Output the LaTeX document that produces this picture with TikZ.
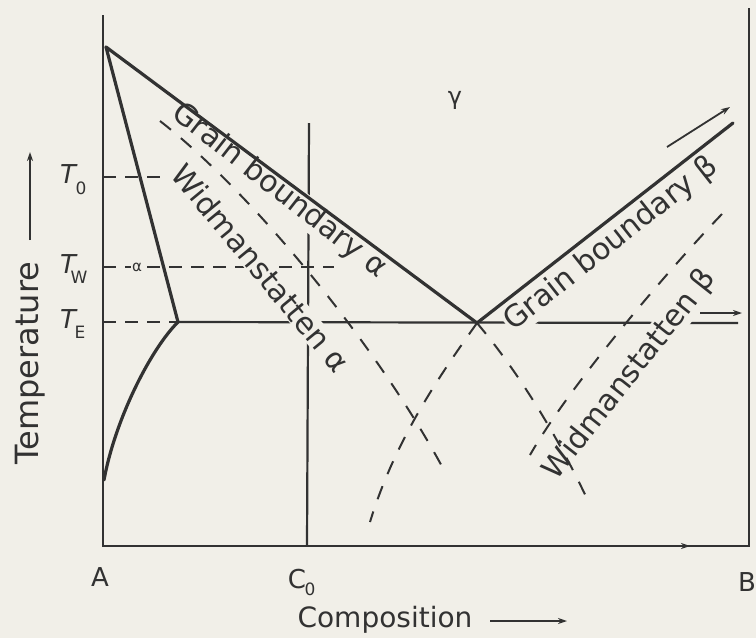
\documentclass[tikz,border=0pt]{standalone}
\usepackage{fontspec}
\setmainfont{DejaVu Sans}
\usetikzlibrary{arrows.meta}
\definecolor{paper}{RGB}{241,239,232}
\definecolor{ink}{RGB}{50,50,50}
\tikzset{
 thickline/.style={ink, line width=3.2pt, line join=round, line cap=round},
 thinline/.style={ink, line width=2.2pt},
 dashline/.style={ink, line width=2pt, dash pattern=on 14pt off 13pt},
 arr/.style={ink, line width=1.8pt, -{Stealth[length=9pt,width=6pt]}},
 lab/.style={text=ink, font=\fontsize{30}{36}\selectfont, inner sep=1pt, fill=paper},
 tlab/.style={text=ink, font=\fontsize{26}{30}\selectfont, inner sep=0pt},
 sublab/.style={text=ink, font=\fontsize{17}{20}\selectfont, inner sep=0pt},
}
\begin{document}
\begin{tikzpicture}[x=1pt,y=-1pt]
\fill[paper] (0,0) rectangle (756,638);
\useasboundingbox (0,0) rectangle (756,638);
% key points
\coordinate (axTop) at (103,15);
\coordinate (O) at (103,546);
\coordinate (Bx) at (749,546);
\coordinate (Rtop) at (749,8);
\coordinate (arrB) at (690,546);
\coordinate (P) at (106,47);
\coordinate (E) at (477,323);
\coordinate (Sol) at (178,322);
\coordinate (Ab) at (104,480);
\coordinate (Lb) at (733,123);
\coordinate (TEr) at (738,323);
\coordinate (Ctop) at (309,123);
\coordinate (Cbot) at (307,546);
\coordinate (T0a) at (103,177);
\coordinate (T0b) at (168,177);
\coordinate (TWa) at (103,267);
\coordinate (TWb) at (334,267);
\coordinate (TEa) at (103,322);
% axes and frame
\draw[thinline] (axTop) -- (O) -- (Bx) -- (Rtop);
\draw[arr] (O) -- (arrB);
% thin solid lines
\draw[thinline] (Ctop) -- (Cbot);
\draw[thinline] (Sol) -- (TEr);
% dashed temperature levels
\draw[dashline, dash pattern=on 13pt off 9pt] (T0a) -- (T0b);
\draw[dashline, dash pattern=on 13pt off 9pt] (TWa) -- (TWb);
\draw[dashline, dash pattern=on 13pt off 9pt] (TEa) -- (Sol);
\node[tlab, font=\fontsize{15}{16}\selectfont, fill=paper, inner sep=1pt] (alph) at (137,267) {α};
% labels along curves (knock-out)
\node[lab, rotate=-38] (gba) at (279,191) {Grain boundary α};
\node[lab, rotate=-50.5] (wa) at (261,268) {Widmanstatten α};
\node[lab, rotate=38.3] (gbb) at (611,244) {Grain boundary β};
\node[lab, rotate=51.8] (wb) at (630,375) {Widmanstatten β};
% dashed metastable extensions
\draw[dashline] (160,121) .. controls (255,195) and (380,350) .. (445,472);
\draw[dashline] (E) .. controls (515,368) and (555,430) .. (590,505);
\draw[dashline] (E) .. controls (440,375) and (395,440) .. (370,522);
\draw[dashline] (722,214) .. controls (670,268) and (570,385) .. (530,455);
% phase boundaries
\draw[thickline] (P) -- (E) -- (Lb);
\draw[thickline] (P) -- (Sol) .. controls (150,350) and (115,420) .. (Ab);
% short arrows
\coordinate (a1s) at (667,147); \coordinate (a1e) at (730,107);
\draw[arr] (a1s) -- (a1e);
\coordinate (a2s) at (700,313); \coordinate (a2e) at (742,313);
\draw[arr] (a2s) -- (a2e);
% gamma
\node[tlab, font=\fontsize{24}{28}\selectfont] (g) at (455,100) {γ};
% temperature labels
\node[tlab, anchor=base west, font=\fontsize{26}{30}\itshape] (T0) at (60,183) {T};
\node[sublab, anchor=center] (T0s) at (81,188) {0};
\node[tlab, anchor=base west, font=\fontsize{26}{30}\itshape] (TW) at (60,273) {T};
\node[sublab, anchor=center] (TWs) at (79,277) {W};
\node[tlab, anchor=base west, font=\fontsize{26}{30}\itshape] (TE) at (60,328) {T};
\node[sublab, anchor=center] (TEs) at (80,332) {E};
% axis labels
\node[tlab] (A) at (100,577) {A};
\node[tlab] (C) at (297,579) {C};
\node[sublab] (Cs) at (310,589) {0};
\node[tlab, anchor=west] (B) at (738,582) {B};
\node[tlab, font=\fontsize{28}{32}\selectfont] (comp) at (385,620) {Composition};
\coordinate (ca1) at (490,621); \coordinate (ca2) at (567,621);
\draw[arr] (ca1) -- (ca2);
\node[tlab, font=\fontsize{32}{36}\selectfont, rotate=90] (temp) at (30,363) {Temperature};
\coordinate (ta1) at (30,240); \coordinate (ta2) at (30,152);
\draw[arr] (ta1) -- (ta2);
\end{tikzpicture}
\end{document}
